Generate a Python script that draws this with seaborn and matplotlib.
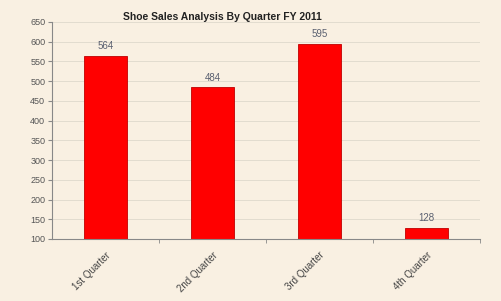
import matplotlib
matplotlib.use('Agg')
import matplotlib.pyplot as plt
import seaborn as sns
import pandas as pd

quarters = ['1st Quarter', '2nd Quarter', '3rd Quarter', '4th Quarter']
sales = [564, 484, 595, 128]
y_ticks = list(range(100, 651, 50))

df = pd.DataFrame({'Quarter': quarters, 'Sales': sales})

sns.set_style('white')
plt.rcParams['font.family'] = ['Liberation Sans', 'DejaVu Sans']

bg = '#f9f0e2'
fig = plt.figure(figsize=(5.01, 3.01), dpi=100, facecolor=bg)
ax = fig.add_axes([0.104, 0.206, 0.854, 0.721])
ax.set_facecolor(bg)

sns.barplot(data=df, x='Quarter', y='Sales', color='#ff0000', width=0.4,
            saturation=1, ax=ax, zorder=3)
for p in ax.patches:
    p.set_edgecolor('#c00000')
    p.set_linewidth(0.6)
    # bars start at 100 (axis floor)
    y0 = 100
    h = p.get_y() + p.get_height() - y0
    p.set_y(y0)
    p.set_height(h)

for i, v in enumerate(sales):
    ax.text(i, v + 12, str(v), ha='center', va='bottom', fontsize=7, color='#5a6070')

ax.set_ylim(100, 650)
ax.set_xlim(-0.5, 3.5)
ax.set_yticks(y_ticks)
ax.set_yticklabels([str(t) for t in y_ticks], fontsize=6.5, color='#555555')
ax.yaxis.grid(True, color='#e2dccf', linewidth=0.7, zorder=0)
ax.set_xticks(range(len(quarters)))
ax.set_xticklabels(quarters, rotation=45, ha='right', rotation_mode='anchor',
                   fontsize=7, color='#444444')
ax.tick_params(axis='x', length=0, pad=8)
ax.tick_params(axis='y', length=3, color='#888888', pad=2, left=True)
# minor ticks between categories
ax.set_xticks([0.5, 1.5, 2.5, 3.5], minor=True)
ax.tick_params(axis='x', which='minor', length=3, color='#888888', bottom=True)
ax.set_xlabel('')
ax.set_ylabel('')
for s in ['top', 'right']:
    ax.spines[s].set_visible(False)
ax.spines['left'].set_color('#888888')
ax.spines['bottom'].set_color('#888888')
ax.spines['bottom'].set_zorder(4)

fig.text(0.443, 0.945, 'Shoe Sales Analysis By Quarter FY 2011', ha='center',
         va='center', fontsize=7.5, fontweight='bold', color='#222222')

fig.savefig('out.png', dpi=100, facecolor=bg)
